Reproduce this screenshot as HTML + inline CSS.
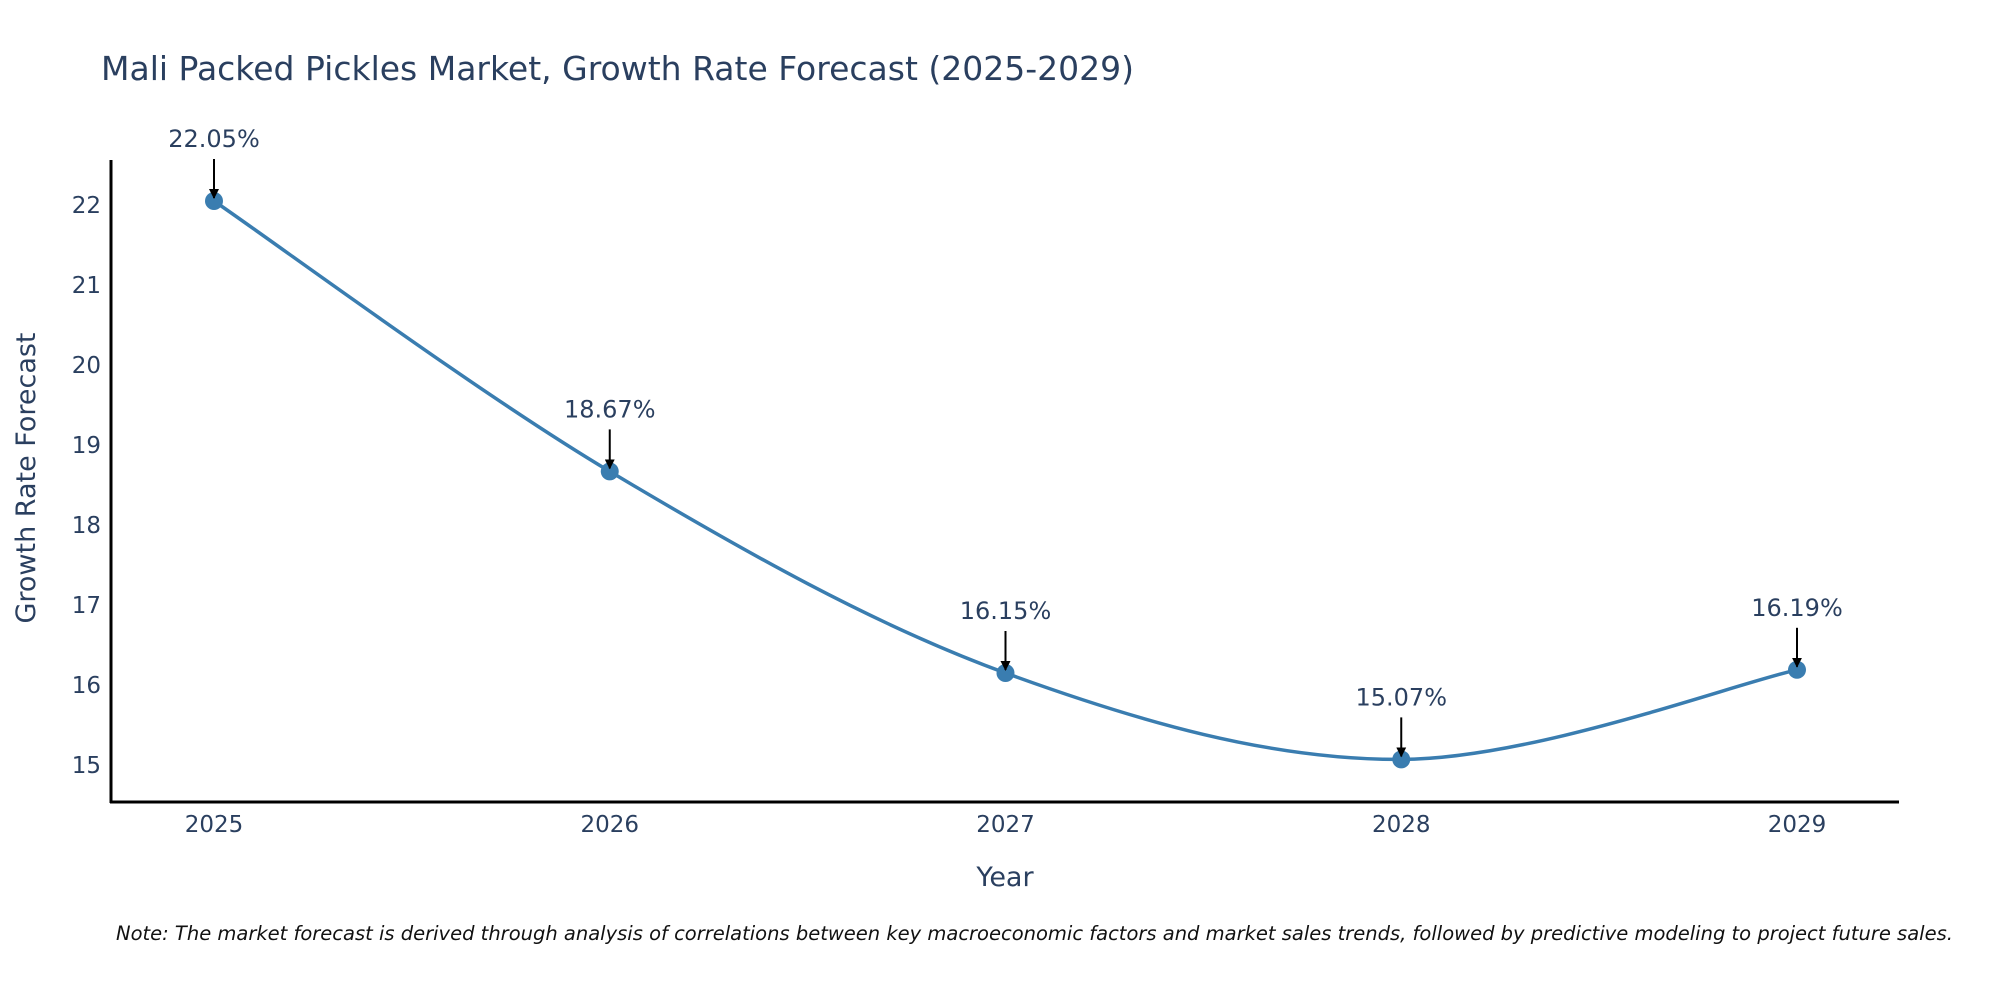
<!DOCTYPE html>
<html><head><meta charset="utf-8"><style>
body{margin:0;background:#fff;}
svg{display:block;font-family:"DejaVu Sans","Liberation Sans",sans-serif;}
</style></head><body>
<svg id="chart" width="2000" height="1000" viewBox="0 0 2000 1000">
<defs><marker id="ah" viewBox="0 0 10 10" refX="9" refY="5" markerWidth="5" markerHeight="5" orient="auto"><path d="M0,0 L10,5 L0,10 z" fill="#000"/></marker></defs>
<text x="101" y="80" font-size="33" fill="#2a3f5f">Mali Packed Pickles Market, Growth Rate Forecast (2025-2029)</text>
<g id="yticks"></g><g id="xticks"></g>
<line x1="111" y1="160" x2="111" y2="803" stroke="#000" stroke-width="3"/>
<line x1="110" y1="802" x2="1899" y2="802" stroke="#000" stroke-width="3"/>
<path id="line" fill="none" stroke="#3a7db0" stroke-width="3.5"/>
<g id="pts"></g><g id="ann"></g>
<text x="1005" y="886" font-size="27" fill="#2a3f5f" text-anchor="middle">Year</text>
<text transform="translate(35,478) rotate(-90)" font-size="27" fill="#2a3f5f" text-anchor="middle">Growth Rate Forecast</text>
<text x="116" y="940" font-size="19.5" font-style="italic" fill="#111">Note: The market forecast is derived through analysis of correlations between key macroeconomic factors and market sales trends, followed by predictive modeling to project future sales.</text>
</svg>
<script>
const years=[2025,2026,2027,2028,2029];
const values=[22.05,18.67,16.15,15.07,16.19];
const labels=["22.05%","18.67%","16.15%","15.07%","16.19%"];
const yTicks=[15,16,17,18,19,20,21,22];
const NS="http://www.w3.org/2000/svg";
const xs=y=>214+(y-2025)*395.75;
const ys=v=>205+(22-v)*80;
function mk(t,a,p){const e=document.createElementNS(NS,t);for(const k in a)e.setAttribute(k,a[k]);p.appendChild(e);return e;}
const yg=document.getElementById('yticks');
yTicks.forEach(t=>{const e=mk('text',{x:101,y:ys(t)+8,'font-size':23,fill:'#2a3f5f','text-anchor':'end'},yg);e.textContent=t;

});
const xg=document.getElementById('xticks');
years.forEach(t=>{const e=mk('text',{x:xs(t),y:832,'font-size':23,fill:'#2a3f5f','text-anchor':'middle'},xg);e.textContent=t;

});
const P=years.map((y,i)=>[xs(y),ys(values[i])]);
let d=`M${P[0][0]},${P[0][1]}`;
for(let i=0;i<P.length-1;i++){const p0=P[Math.max(i-1,0)],p1=P[i],p2=P[i+1],p3=P[Math.min(i+2,P.length-1)];
const c1=[p1[0]+(p2[0]-p0[0])/6,p1[1]+(p2[1]-p0[1])/6],c2=[p2[0]-(p3[0]-p1[0])/6,p2[1]-(p3[1]-p1[1])/6];
d+=` C${c1[0]},${c1[1]} ${c2[0]},${c2[1]} ${p2[0]},${p2[1]}`;}
document.getElementById('line').setAttribute('d',d);
const pg=document.getElementById('pts'),ag=document.getElementById('ann');
P.forEach((p,i)=>{const c=mk('circle',{cx:p[0],cy:p[1],r:9,fill:'#3a7db0'},pg);


const l=mk('line',{x1:p[0],y1:p[1]-42,x2:p[0],y2:p[1]-3,stroke:'#000','stroke-width':2,'marker-end':'url(#ah)'},ag);


const t=mk('text',{x:p[0],y:p[1]-54,'font-size':24,fill:'#2a3f5f','text-anchor':'middle'},ag);t.textContent=labels[i];

});
</script>
</body></html>
